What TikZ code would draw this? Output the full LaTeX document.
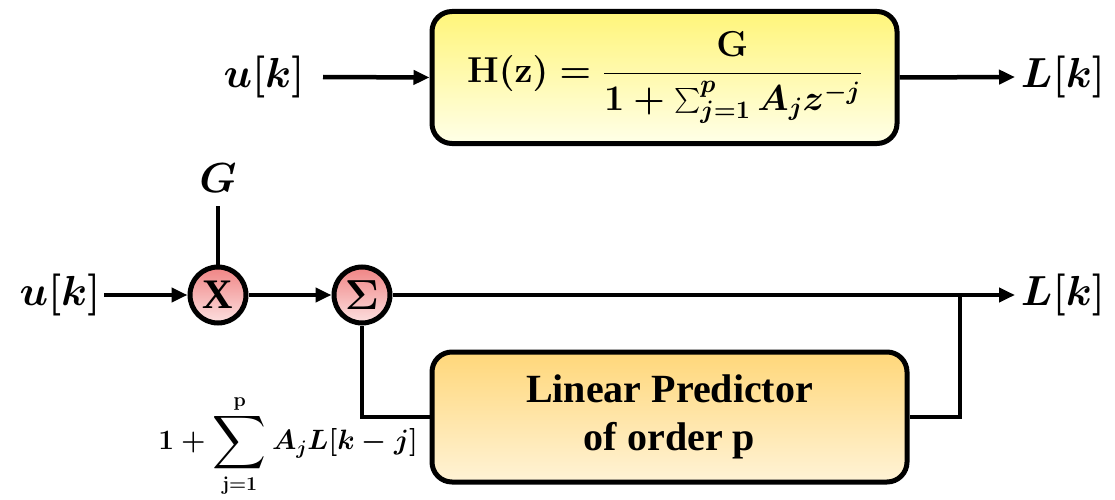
\RequirePackage{fix-cm}
\documentclass[tikz,border=0pt]{standalone}
\usepackage{amsmath}
\usepackage{bm}
\usepackage{graphicx}
\usepackage{fontspec}
\setmainfont{Liberation Serif}
\usetikzlibrary{arrows.meta}
\definecolor{ylA}{HTML}{FFF57A}
\definecolor{ylB}{HTML}{FFFFE8}
\definecolor{orA}{HTML}{FFD77A}
\definecolor{orB}{HTML}{FFF3D6}
\definecolor{pkA}{HTML}{F08484}
\definecolor{pkB}{HTML}{FCE0E0}
\newcommand{\bigsumop}{\mathop{\vcenter{\hbox{\scalebox{1.5}{$\displaystyle\sum$}}}}\limits}
\newcommand{\hformula}{$\mathbf{H(z)}=\dfrac{\mathbf{G}}{\mathbf{1}+\sum_{j=\mathbf{1}}^{p}A_jz^{-j}}$}
\newcommand{\pformula}{$\mathbf{1}+\bigsumop_{\mathbf{j=1}}^{\mathbf{p}}A_jL[k-j]$}
\begin{document}
\begin{tikzpicture}[x=1pt,y=-1pt,
  wire/.style={line width=4.5pt},
  arr/.style={wire,-{Triangle[length=16pt,width=14pt]}},
  blockbox/.style={draw,line width=5pt,rounded corners=20pt,minimum width=465pt,minimum height=132pt,align=center},
  sumcirc/.style={circle,draw,line width=5pt,minimum size=56pt,inner sep=0pt,top color=pkA,bottom color=pkB,font=\fontsize{42}{46}\selectfont\boldmath},
  lbl/.style={font=\fontsize{42}{48}\selectfont\boldmath}
]
\useasboundingbox (0,0) rectangle (1115,500);
% top row
\node[blockbox,top color=ylA,bottom color=ylB,font=\fontsize{36}{42}\selectfont\boldmath] (hbox) at (664.5,77.5) {\hformula};
\node[lbl] (u1) at (264,77) {$\bm{u}[\bm{k}]$};
\node[lbl] (l1) at (1063,77) {$\bm{L}[\bm{k}]$};
\coordinate (u1e) at (323,77);
\coordinate (l1s) at (1015,77);
\draw[arr] (u1e) -- (hbox.west);
\draw[arr] (hbox.east) -- (l1s);
% bottom row
\node[sumcirc] (mul) at (218,295) {\textbf{X}};
\node[sumcirc] (sum) at (362,295) {$\Sigma$};
\node[lbl] (u2) at (60,295) {$\bm{u}[\bm{k}]$};
\node[lbl] (l2) at (1063,295) {$\bm{L}[\bm{k}]$};
\node[lbl] (g) at (218,178) {$\bm{G}$};
\coordinate (gs) at (218,206);
\coordinate (u2e) at (104,295);
\coordinate (l2s) at (1015,295);
\coordinate (br) at (960,295);
\node[blockbox,minimum width=475pt,minimum height=130pt,top color=orA,bottom color=orB,font=\fontsize{40}{48}\selectfont\bfseries] (pred) at (669.5,417) {Linear Predictor\\of order p};
\node[font=\fontsize{28}{34}\selectfont\boldmath,anchor=east,inner sep=0pt] (form) at (418,446) {\pformula};
\draw[arr] (u2e) -- (mul.west);
\draw[wire] (gs) -- (mul.north);
\draw[arr] (mul.east) -- (sum.west);
\draw[arr] (sum.east) -- (l2s);
\draw[wire] (br) |- (pred.east);
\draw[wire] (pred.west) -| (sum.south);
\end{tikzpicture}
\end{document}
